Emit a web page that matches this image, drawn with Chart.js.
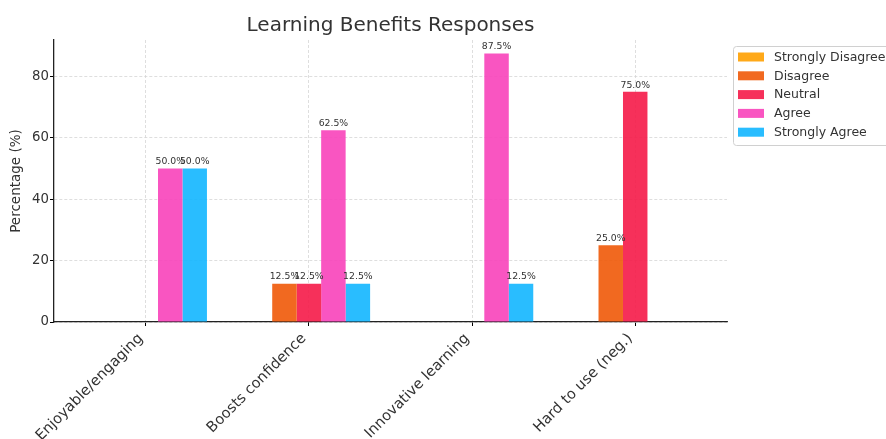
<!DOCTYPE html>
<html lang="en">
<head>
  <meta charset="UTF-8" />
  <title>Learning Benefits Responses</title>
  <style>
    html, body { margin: 0; padding: 0; background: #fff; }
    #wrap { width: 886px; height: 439px; }
  </style>
  <script src="https://cdn.jsdelivr.net/npm/chart.js"></script>
</head>
<body>
  <div id="wrap"><canvas id="chart" width="886" height="439"></canvas></div>
<script>
  // data
  const categories = ['Enjoyable/engaging', 'Boosts confidence', 'Innovative learning', 'Hard to use (neg.)']
  const seriesNames = ['Strongly Disagree', 'Disagree', 'Neutral', 'Agree', 'Strongly Agree']
  const stronglyDisagree = [0, 0, 0, 0]
  const disagree = [0, 12.5, 0, 25]
  const neutral = [0, 12.5, 0, 75]
  const agree = [50, 62.5, 87.5, 0]
  const stronglyAgree = [50, 12.5, 12.5, 0]
  const yTicks = [0, 20, 40, 60, 80]
  const colors = ['rgba(255,160,0,0.9)', 'rgba(240,89,8,0.9)', 'rgba(245,25,72,0.9)', 'rgba(248,66,186,0.9)', 'rgba(18,182,255,0.9)']

  const allSeries = [stronglyDisagree, disagree, neutral, agree, stronglyAgree]
  const font = "'DejaVu Sans', sans-serif"
  const textColor = '#333'

  // value labels above the bars
  const barLabels = {
    id: 'barLabels',
    afterDatasetsDraw(chart) {
      const ctx = chart.ctx
      ctx.save()
      ctx.font = '9.3px ' + font
      ctx.fillStyle = textColor
      ctx.textAlign = 'center'
      ctx.textBaseline = 'bottom'
      chart.data.datasets.forEach((ds, i) => {
        chart.getDatasetMeta(i).data.forEach((bar, j) => {
          const v = ds.data[j].y
          if (v > 0) ctx.fillText(v.toFixed(1) + '%', bar.x, bar.y - 2)
        })
      })
      ctx.restore()
    }
  }

  // boxed legend to the right of the plot
  const boxLegend = {
    id: 'boxLegend',
    afterDraw(chart) {
      const ctx = chart.ctx
      const a = chart.chartArea
      const x0 = a.right + 6, y0 = 46, rowH = 18.8
      ctx.save()
      ctx.fillStyle = 'rgba(255,255,255,0.8)'
      ctx.strokeStyle = '#d0d0d0'
      ctx.lineWidth = 1
      ctx.beginPath()
      ctx.roundRect(x0 + 0.5, y0 + 0.5, 162, 99, 3)
      ctx.fill()
      ctx.stroke()
      ctx.font = '12.5px ' + font
      ctx.textBaseline = 'middle'
      ctx.textAlign = 'left'
      chart.data.datasets.forEach((ds, i) => {
        const cy = y0 + 11 + i * rowH
        ctx.fillStyle = ds.backgroundColor
        ctx.fillRect(x0 + 5, cy - 4.5, 26, 9)
        ctx.fillStyle = textColor
        ctx.fillText(ds.label, x0 + 41, cy + 0.5)
      })
      ctx.restore()
    }
  }

  const chart = new Chart(document.querySelector('#chart'), {
    type: 'bar',
    data: {
      datasets: seriesNames.map((name, i) => ({
        label: name,
        data: allSeries[i].map((v, j) => ({ x: j, y: v })),
        backgroundColor: colors[i],
        borderWidth: 0,
        categoryPercentage: 0.75,
        barPercentage: 1
      }))
    },
    options: {
      responsive: false,
      animation: false,
      layout: { padding: { right: 159, top: 0, left: 0, bottom: 0 } },
      plugins: {
        legend: { display: false },
        tooltip: { enabled: false },
        title: {
          display: true,
          fullSize: false,
          text: 'Learning Benefits Responses',
          color: textColor,
          font: { family: font, size: 20, weight: 'normal', lineHeight: 1.2 },
          padding: { top: 13.6, bottom: 2.4 }
        }
      },
      scales: {
        x: {
          type: 'linear',
          min: -0.5625,
          max: 3.5625,
          offset: false,
          afterBuildTicks: s => { s.ticks = categories.map((c, i) => ({ value: i })) },
          afterFit: s => { s.height = 117 },
          ticks: {
            callback: v => categories[v],
            color: textColor,
            font: { family: font, size: 14.6 },
            minRotation: 45,
            maxRotation: 45,
            labelOffset: -5,
            padding: 4
          },
          grid: {
            offset: false,
            color: '#d6d6d6',
            lineWidth: 0.8,
            tickColor: '#000',
            tickLength: 4,
            tickWidth: 1
          },
          border: { display: true, color: '#222', width: 1.3, dash: [3, 2] }
        },
        y: {
          min: 0,
          max: 91.875,
          afterBuildTicks: s => { s.ticks = yTicks.map(v => ({ value: v })) },
          afterFit: s => { s.width = 54 },
          ticks: {
            color: textColor,
            font: { family: font, size: 13.3 },
            padding: 1
          },
          title: {
            display: true,
            text: 'Percentage (%)',
            color: textColor,
            font: { family: font, size: 13.5 },
            padding: { top: 8, bottom: 0 }
          },
          grid: {
            color: '#d6d6d6',
            lineWidth: 0.8,
            tickColor: '#000',
            tickLength: 4,
            tickWidth: 1
          },
          border: { display: true, color: '#222', width: 1.3, dash: [3, 2] }
        }
      }
    },
    plugins: [barLabels, boxLegend]
  })
</script>
</body>
</html>
